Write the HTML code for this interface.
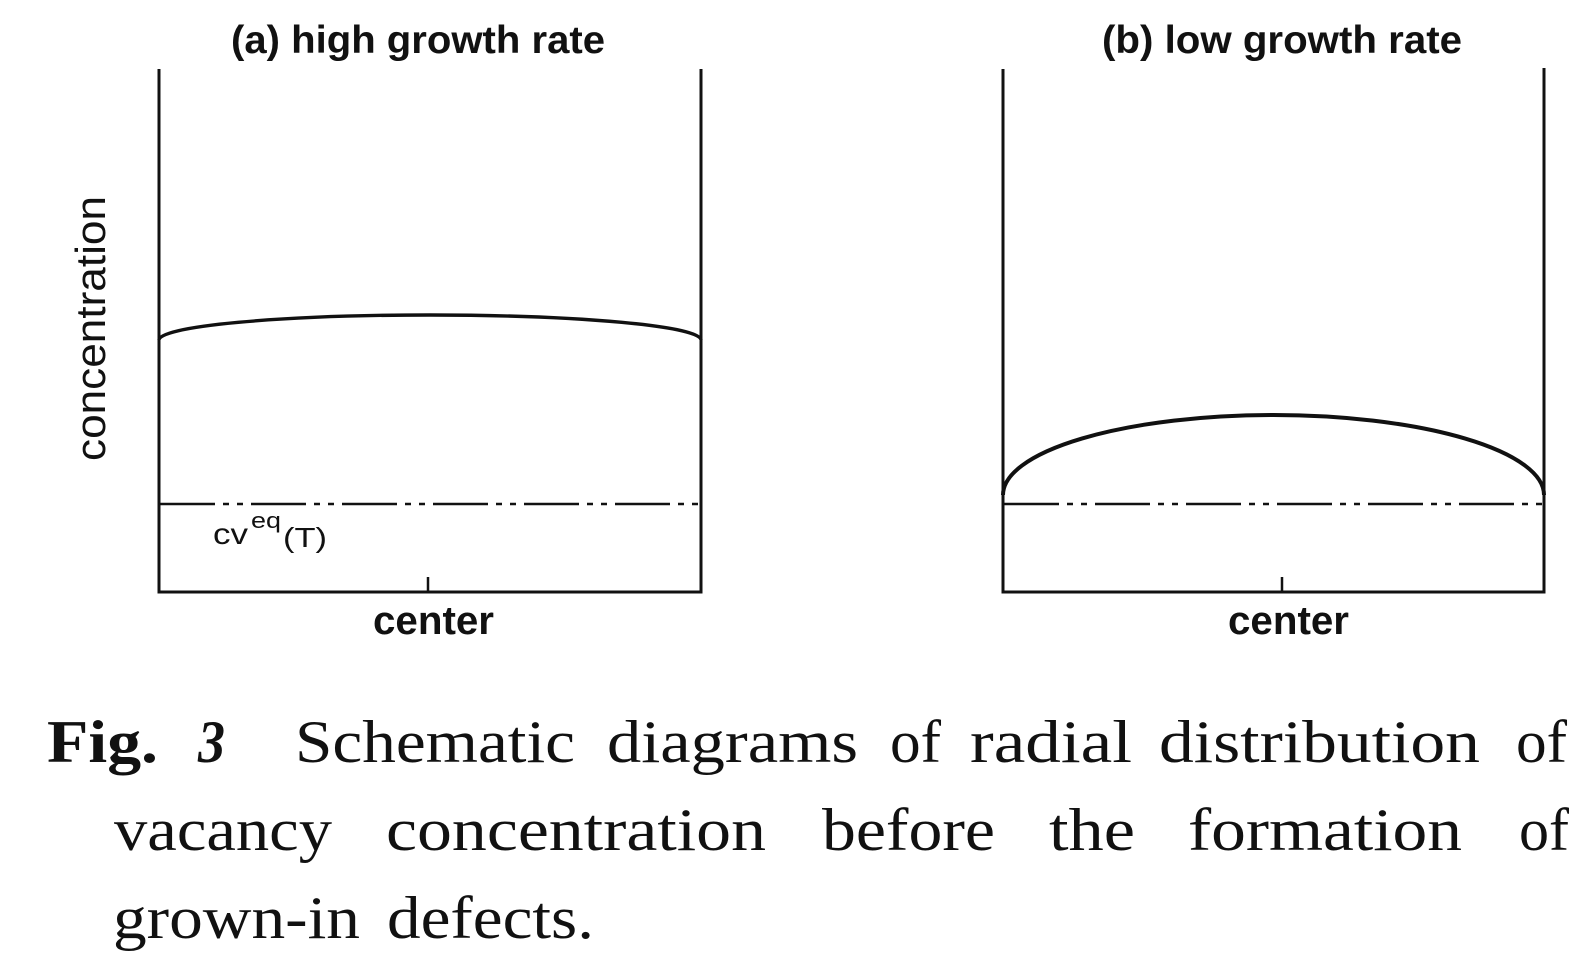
<!DOCTYPE html>
<html>
<head>
<meta charset="utf-8">
<style>
  html, body { margin: 0; padding: 0; background: #ffffff; }
  svg { display: block; }
  .sans { font-family: "Liberation Sans", "DejaVu Sans", sans-serif; fill: #111; }
  .serif { font-family: "Liberation Serif", "DejaVu Serif", serif; fill: #111; }
</style>
</head>
<body>
<svg width="1588" height="972" viewBox="0 0 1588 972" xmlns="http://www.w3.org/2000/svg">
  <rect x="0" y="0" width="1588" height="972" fill="#ffffff"/>

  <!-- Titles -->
  <text class="sans" x="231" y="53" font-size="39" font-weight="bold" textLength="374" lengthAdjust="spacingAndGlyphs">(a) high growth rate</text>
  <text class="sans" x="1102" y="53" font-size="39" font-weight="bold" textLength="360" lengthAdjust="spacingAndGlyphs">(b) low growth rate</text>

  <!-- Y label -->
  <text class="sans" transform="translate(105,461) rotate(-90)" x="0" y="0" font-size="42" textLength="265" lengthAdjust="spacingAndGlyphs">concentration</text>

  <!-- Panel (a) -->
  <g stroke="#111" fill="none" stroke-linecap="butt">
    <line x1="159" y1="69" x2="159" y2="593" stroke-width="3"/>
    <line x1="701" y1="69" x2="701" y2="593" stroke-width="3"/>
    <line x1="157.5" y1="592" x2="702.5" y2="592" stroke-width="3"/>
    <line x1="428" y1="577" x2="428" y2="592" stroke-width="2.5"/>
    <line x1="160" y1="504" x2="700" y2="504" stroke-width="2.5" stroke-dasharray="55 8 6 8 6 8"/>
    <path d="M159,340 A271,25 0 0 1 701,340" stroke-width="3.4"/>
  </g>

  <text class="sans" x="213" y="544" font-size="30" textLength="35" lengthAdjust="spacingAndGlyphs">cv</text>
  <text class="sans" x="251" y="528" font-size="22" textLength="30" lengthAdjust="spacingAndGlyphs">eq</text>
  <text class="sans" x="283" y="547" font-size="28" textLength="44" lengthAdjust="spacingAndGlyphs">(T)</text>

  <text class="sans" x="373" y="634" font-size="40" font-weight="bold" textLength="121" lengthAdjust="spacingAndGlyphs">center</text>

  <!-- Panel (b) -->
  <g stroke="#111" fill="none" stroke-linecap="butt">
    <line x1="1003" y1="69" x2="1003" y2="593" stroke-width="3"/>
    <line x1="1544" y1="68" x2="1544" y2="593" stroke-width="3"/>
    <line x1="1001.5" y1="592" x2="1545.5" y2="592" stroke-width="3"/>
    <line x1="1282" y1="577" x2="1282" y2="592" stroke-width="2.5"/>
    <line x1="1004" y1="504" x2="1543" y2="504" stroke-width="2.5" stroke-dasharray="55 8 6 8 6 8"/>
    <path d="M1003,495 A270.5,80 0 0 1 1544,495" stroke-width="4"/>
  </g>

  <text class="sans" x="1228" y="634" font-size="40" font-weight="bold" textLength="121" lengthAdjust="spacingAndGlyphs">center</text>

  <!-- Caption line 1 -->
  <text class="serif" x="47" y="762" font-size="60" font-weight="bold" textLength="111" lengthAdjust="spacingAndGlyphs">Fig.</text>
  <text class="serif" x="198" y="762" font-size="60" font-weight="bold" font-style="italic" textLength="27" lengthAdjust="spacingAndGlyphs">3</text>
  <text class="serif" x="295" y="762" font-size="60" textLength="280" lengthAdjust="spacingAndGlyphs">Schematic</text>
  <text class="serif" x="607" y="762" font-size="60" textLength="251" lengthAdjust="spacingAndGlyphs">diagrams</text>
  <text class="serif" x="890" y="762" font-size="60" textLength="51" lengthAdjust="spacingAndGlyphs">of</text>
  <text class="serif" x="970" y="762" font-size="60" textLength="162" lengthAdjust="spacingAndGlyphs">radial</text>
  <text class="serif" x="1159" y="762" font-size="60" textLength="321" lengthAdjust="spacingAndGlyphs">distribution</text>
  <text class="serif" x="1516" y="762" font-size="60" textLength="51" lengthAdjust="spacingAndGlyphs">of</text>

  <!-- Caption line 2 -->
  <text class="serif" x="114" y="850" font-size="60" textLength="218" lengthAdjust="spacingAndGlyphs">vacancy</text>
  <text class="serif" x="386" y="850" font-size="60" textLength="380" lengthAdjust="spacingAndGlyphs">concentration</text>
  <text class="serif" x="822" y="850" font-size="60" textLength="173" lengthAdjust="spacingAndGlyphs">before</text>
  <text class="serif" x="1049" y="850" font-size="60" textLength="86" lengthAdjust="spacingAndGlyphs">the</text>
  <text class="serif" x="1188" y="850" font-size="60" textLength="274" lengthAdjust="spacingAndGlyphs">formation</text>
  <text class="serif" x="1519" y="850" font-size="60" textLength="50" lengthAdjust="spacingAndGlyphs">of</text>

  <!-- Caption line 3 -->
  <text class="serif" x="113" y="938" font-size="60" textLength="247" lengthAdjust="spacingAndGlyphs">grown-in</text>
  <text class="serif" x="387" y="938" font-size="60" textLength="207" lengthAdjust="spacingAndGlyphs">defects.</text>
</svg>
</body>
</html>
